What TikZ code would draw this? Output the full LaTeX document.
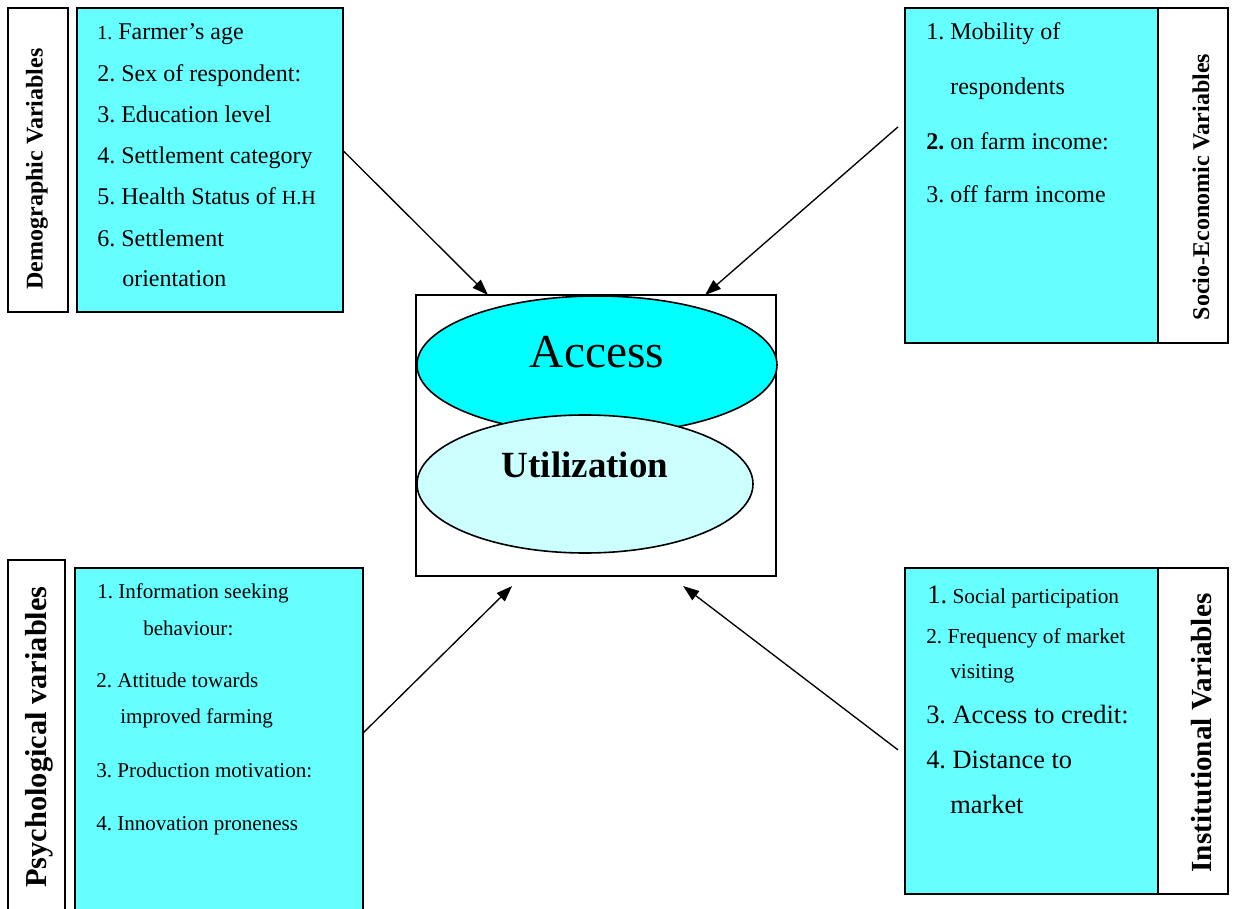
\documentclass[tikz,border=0pt]{standalone}
\usepackage{fontspec}
\setmainfont{Liberation Serif}
\usetikzlibrary{shapes.geometric,arrows.meta,calc}
\definecolor{boxcyan}{HTML}{66FFFF}
\definecolor{acccyan}{HTML}{00FFFF}
\definecolor{utilcyan}{HTML}{CCFFFF}
\frenchspacing
\begin{document}
\begin{tikzpicture}[x=0.75pt,y=-0.75pt,
  pbox/.style args={#1x#2}{draw=black, line width=1.2pt, rectangle, inner sep=0pt, outer sep=0pt, anchor=north west,
     minimum width={#1*0.75pt}, minimum height={#2*0.75pt}},
  cbox/.style={pbox=#1, fill=boxcyan},
  wbox/.style={pbox=#1, fill=white},
  txt/.style={anchor=base west, inner sep=0pt, font=\fontsize{18}{20}\selectfont},
  stxt/.style={anchor=base west, inner sep=0pt, font=\fontsize{15.8}{18}\selectfont},
  itxt/.style={anchor=base west, inner sep=0pt, font=\fontsize{16}{18}\selectfont},
  btxt/.style={anchor=base west, inner sep=0pt, font=\fontsize{19.8}{22}\selectfont},
  lab/.style={rotate=90, inner sep=0pt, font=\bfseries\fontsize{#1}{#1}\selectfont},
  arr/.style={line width=1pt, -{Triangle[length=12pt,width=8.5pt]}},
  ell/.style={ellipse, draw=black, line width=1.2pt, inner sep=0pt}
]
\useasboundingbox (0,0) rectangle (1233,909);
\clip (0,0) rectangle (1233,909);

% boxes
\node[wbox=60x304] (demoL) at (8,8) {};
\node[cbox=266x304] (demo) at (77,8) {};
\node[cbox=253x335] (socio) at (905,8) {};
\node[wbox=70x335] (socioL) at (1158,8) {};
\node[wbox=57x370] (psyL) at (8,560) {};
\node[cbox=288x362] (psy) at (75,568) {};
\node[cbox=253x326] (inst) at (905,568) {};
\node[wbox=70x326] (instL) at (1158,568) {};

% centre
\node[pbox=360x281, fill=white] (core) at (416,295) {};
\node[ell, fill=acccyan, minimum width={360*0.75pt}, minimum height={138*0.75pt}] (acc) at (597,365) {};
\node[ell, fill=utilcyan, minimum width={336*0.75pt}, minimum height={138*0.75pt}] (util) at (585,484) {};
\node[anchor=base, inner sep=0pt, font=\fontsize{35.5}{38}\selectfont] (acct) at (597,368) {Access};
\node[anchor=base, inner sep=0pt, font=\bfseries\fontsize{27.7}{30}\selectfont] (utilt) at (585,478) {Utilization};

% labels
\node[lab=18] (demoLt) at (37,169) {Demographic Variables};
\node[lab=18] (socioLt) at (1201,187) {Socio-Economic Variables};
\node[lab=22.8] (psyLt) at (39,737) {Psychological variables};
\node[lab=21.9] (instLt) at (1202,733) {Institutional Variables};

% demographic text
\node[txt] (d1) at (97,40) {{\fontsize{15}{18}\selectfont 1.} Farmer’s age};
\node[txt] (d2) at (97,82) {2. Sex of respondent:};
\node[txt] (d3) at (97,123) {3. Education level};
\node[txt] (d4) at (97,164) {4. Settlement category};
\node[txt] (d5) at (97,205) {5. Health Status of {\fontsize{15}{18}\selectfont H.H}};
\node[txt] (d6) at (97,247) {6. Settlement};
\node[txt] (d7) at (122,287) {orientation};

% socio text
\node[txt] (s1) at (926,40) {1. Mobility of};
\node[txt] (s2) at (950,95) {respondents};
\node[txt] (s3) at (926,150) {\textbf{2.} on farm income:};
\node[txt] (s4) at (926,203) {3. off farm income};

% psychological text
\node[stxt] (p1) at (97,598) {1. Information seeking};
\node[stxt] (p2) at (143,635) {behaviour:};
\node[stxt] (p3) at (96,687) {2. Attitude towards};
\node[stxt] (p4) at (120,723) {improved farming};
\node[stxt] (p5) at (96,777) {3. Production motivation:};
\node[stxt] (p6) at (96,830) {4. Innovation proneness};

% institutional text
\node[itxt] (i1) at (927,603) {{\fontsize{20}{22}\selectfont 1.} Social participation};
\node[itxt] (i2) at (926,643) {2. Frequency of market};
\node[itxt] (i3) at (950,678) {visiting};
\node[btxt] (i4) at (926,723) {3. Access to credit:};
\node[btxt] (i5) at (926,768) {4. Distance to};
\node[btxt] (i6) at (950,813) {market};

% arrows
\draw[arr] ($(demo.north east)!0.469!(demo.south east)$) -- ($(core.north west)!0.2!(core.north east)$);
\draw[arr] ($(socio.north west)!0.355!(socio.south west)+(-7,0)$) -- ($(core.north west)!0.803!(core.north east)$);
\draw[arr] ($(psy.north east)!0.456!(psy.south east)$) -- ($(core.south west)!0.267!(core.south east)+(0,10)$);
\draw[arr] ($(inst.north west)!0.558!(inst.south west)+(-7,0)$) -- ($(core.south west)!0.742!(core.south east)+(0,10)$);
\end{tikzpicture}
\end{document}
